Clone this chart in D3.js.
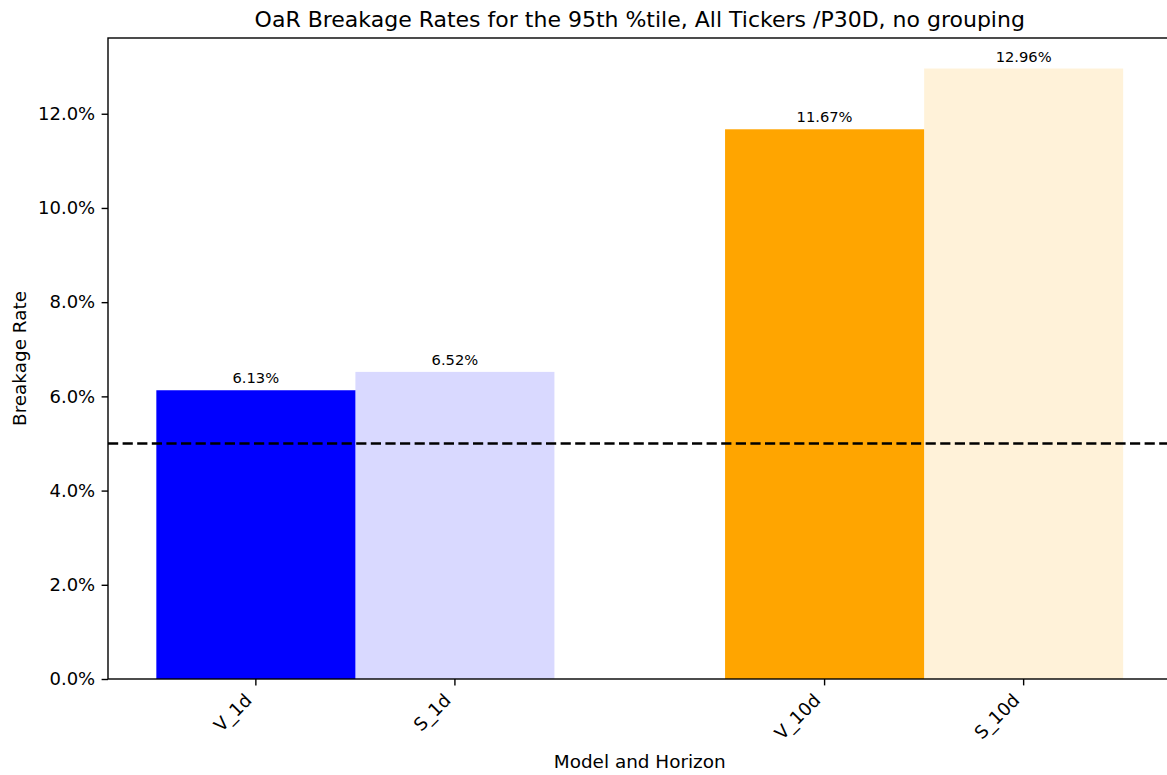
<!DOCTYPE html>
<html>
<head>
<meta charset="utf-8">
<script src="https://cdn.jsdelivr.net/npm/d3@7"></script>
<style>
  body { margin: 0; background: #fff; }
  svg { font-family: 'DejaVu Sans', sans-serif; }
</style>
</head>
<body>
<svg width="1167" height="775"></svg>
<script>
// data
let labels = ['V_1d', 'S_1d', 'V_10d', 'S_10d']
let groups = [0, 0, 1, 1]        // 1d group, 10d group
let models = ['V', 'S', 'V', 'S']
let rates = [6.13, 6.52, 11.67, 12.96] // percent
let target = 5.0                 // expected breakage rate, percent
let yTicks = [0, 2, 4, 6, 8, 10, 12]

let title = 'OaR Breakage Rates for the 95th %tile, All Tickers /P30D, no grouping'

let groupColor = ['#0000ff', '#ffa500']
let modelAlpha = {V: 1, S: 0.15}
let barWidth = 0.35

let margin = {left: 108, top: 38, right: 1171.5, bottom: 679}
let tickLen = 6.4

let svg = d3.select('svg')

let x = d3.scaleLinear()
  .domain([-0.435, 1.435])
  .range([margin.left, margin.right])

let y = d3.scaleLinear()
  .domain([0, d3.max(rates) * 1.05])
  .range([margin.bottom, margin.top])

let xPos = labels.map((d, i) => groups[i] + (models[i] === 'V' ? -barWidth / 2 : barWidth / 2))

// bars
svg.append('g')
  .selectAll('rect')
  .data(rates)
  .join('rect')
  .attr('x', (d, i) => x(xPos[i] - barWidth / 2))
  .attr('width', x(barWidth) - x(0))
  .attr('y', d => y(d))
  .attr('height', d => y(0) - y(d))
  .attr('fill', (d, i) => groupColor[groups[i]])
  .attr('fill-opacity', (d, i) => modelAlpha[models[i]])

// value labels
svg.append('g')
  .selectAll('text')
  .data(rates)
  .join('text')
  .attr('x', (d, i) => x(xPos[i]))
  .attr('y', d => y(d) - 7)
  .attr('text-anchor', 'middle')
  .attr('font-size', 14.7)
  .text(d => d.toFixed(2) + '%')

// 5% reference line
svg.append('line')
  .attr('x1', margin.left)
  .attr('x2', margin.right)
  .attr('y1', y(target))
  .attr('y2', y(target))
  .attr('stroke', '#000')
  .attr('stroke-width', 2.7)
  .attr('stroke-dasharray', '10.2,4.4')

// y axis
let yAxis = svg.append('g')
  .attr('transform', `translate(${margin.left},0)`)
  .call(d3.axisLeft(y)
    .tickValues(yTicks)
    .tickSize(tickLen)
    .tickSizeOuter(0)
    .tickPadding(tickLen)
    .tickFormat(d => d.toFixed(1) + '%'))
yAxis.select('.domain').remove()
yAxis.selectAll('text')
  .attr('font-size', 18)
  .attr('font-family', 'DejaVu Sans')
  .attr('fill', '#000')
yAxis.selectAll('line').attr('stroke', '#000').attr('stroke-width', 1.4)

// x axis ticks and rotated labels
let xAxis = svg.append('g')
  .attr('transform', `translate(0,${margin.bottom})`)
xAxis.selectAll('line')
  .data(xPos)
  .join('line')
  .attr('x1', d => x(d))
  .attr('x2', d => x(d))
  .attr('y1', 0)
  .attr('y2', tickLen)
  .attr('stroke', '#000')
  .attr('stroke-width', 1.4)
xAxis.selectAll('text')
  .data(labels)
  .join('text')
  .attr('transform', (d, i) => `translate(${x(xPos[i]) - 3},${22.5})rotate(-45)`)
  .attr('text-anchor', 'end')
  .attr('font-size', 18)
  .text(d => d)

// spines
svg.append('rect')
  .attr('x', margin.left)
  .attr('y', margin.top)
  .attr('width', margin.right - margin.left)
  .attr('height', margin.bottom - margin.top)
  .attr('fill', 'none')
  .attr('stroke', '#000')
  .attr('stroke-width', 1.4)

// title and axis labels
svg.append('text')
  .attr('x', (margin.left + margin.right) / 2)
  .attr('y', 27)
  .attr('text-anchor', 'middle')
  .attr('font-size', 22)
  .text(title)

svg.append('text')
  .attr('x', (margin.left + margin.right) / 2)
  .attr('y', 768)
  .attr('text-anchor', 'middle')
  .attr('font-size', 18.4)
  .text('Model and Horizon')

svg.append('text')
  .attr('transform', `translate(25.5,${(margin.top + margin.bottom) / 2})rotate(-90)`)
  .attr('text-anchor', 'middle')
  .attr('font-size', 18.4)
  .text('Breakage Rate')
</script>
</body>
</html>
